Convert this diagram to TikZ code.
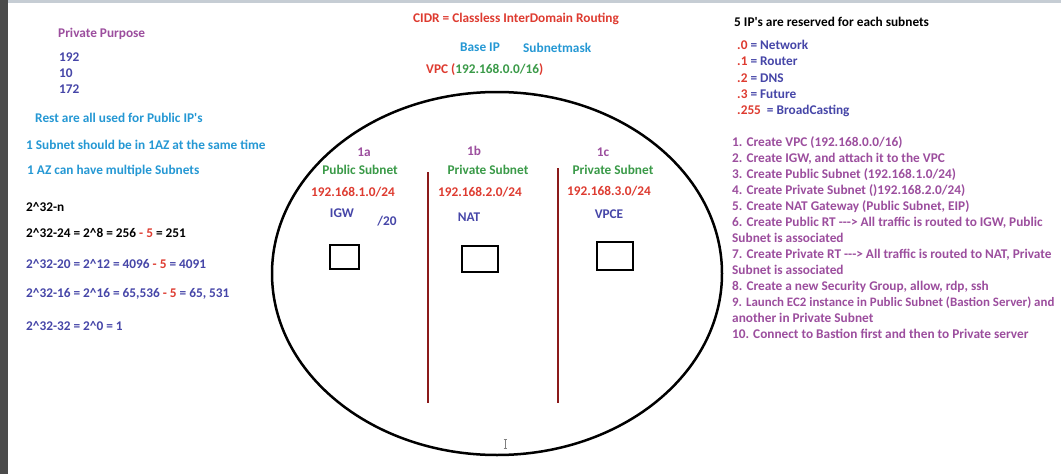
\documentclass[tikz,border=0pt]{standalone}
\usepackage{fontspec}
\setmainfont{Carlito}
\definecolor{cpurple}{HTML}{9C4E9E}
\definecolor{cdblue}{HTML}{4646A8}
\definecolor{clblue}{HTML}{2598D4}
\definecolor{cred}{HTML}{DE3B30}
\definecolor{cgreen}{HTML}{3A9A48}
\definecolor{cline}{HTML}{8B1A1A}
\definecolor{cband}{HTML}{4B4B4B}
\definecolor{ctop}{HTML}{C6CDD4}
\newcommand{\crt}{\textasciicircum}
\newcommand{\apos}{\textquotesingle}
\begin{document}
\begin{tikzpicture}[x=1pt,y=-1pt,
  every node/.style={inner sep=0pt, font=\bfseries\fontsize{13.3}{15}\selectfont},
  txt/.style={anchor=base west},
  ctr/.style={anchor=base},
  sep/.style={draw=cline, line width=2pt},
  bx/.style={draw=black, line width=2.3pt}]
\useasboundingbox (0,0) rectangle (1061,474);
\fill[white] (0,0) rectangle (1061,474);
\fill[cband] (0,0) rectangle (8,474);
\fill[ctop] (8,0) rectangle (1061,3);
% left column
\node[txt, text=cpurple] (pp) at (58,37) {Private Purpose};
\node[txt, text=cdblue] (n1) at (59,61) {192};
\node[txt, text=cdblue] (n2) at (59,77) {10};
\node[txt, text=cdblue] (n3) at (59,93) {172};
\node[txt, text=clblue] (rest) at (35,122) {Rest are all used for Public IP\apos s};
\node[txt, text=clblue] (az1) at (26,149) {1 Subnet should be in 1AZ at the same time};
\node[txt, text=clblue] (az2) at (27,174) {1 AZ can have multiple Subnets};
\node[txt, text=black] (f0) at (26,211) {2\crt 32-n};
\node[txt, text=black] (f1) at (26,237) {2\crt 32-24 = 2\crt 8 = 256 \textcolor{cred}{- 5} = 251};
\node[txt, text=cdblue] (f2) at (26,268) {2\crt 32-20 = 2\crt 12 = 4096 \textcolor{cred}{- 5} = 4091};
\node[txt, text=cdblue] (f3) at (26,297) {2\crt 32-16 = 2\crt 16 = 65,536 \textcolor{cred}{- 5} = 65, 531};
\node[txt, text=cdblue] (f4) at (26,330) {2\crt 32-32 = 2\crt 0 = 1};
% centre top
\node[txt, text=cred] (cidr) at (413,22) {CIDR = Classless InterDomain Routing};
\node[txt, text=clblue] (base) at (460,51) {Base IP};
\node[txt, text=clblue] (mask) at (523,52) {Subnetmask};
\node[txt, text=cred] (vpc) at (426,73) {VPC (\textcolor{cgreen}{192.168.0.0/16})};
% right column
\node[txt, text=black] (res) at (734,26) {5 IP\apos s are reserved for each subnets};
\node[txt, text=cdblue] (r0) at (737,49) {\textcolor{cred}{.0} = Network};
\node[txt, text=cdblue] (r1) at (737,65) {\textcolor{cred}{.1} = Router};
\node[txt, text=cdblue] (r2) at (737,82) {\textcolor{cred}{.2} = DNS};
\node[txt, text=cdblue] (r3) at (737,98) {\textcolor{cred}{.3} = Future};
\node[txt, text=cdblue] (r4) at (737,114) {\textcolor{cred}{.255}\ \ = BroadCasting};
\begin{scope}[every node/.append style={txt, text=cpurple}]
\node (s1) at (732,146) {1. Create VPC (192.168.0.0/16)};
\node (s2) at (732,162) {2. Create IGW, and attach it to the VPC};
\node (s3) at (732,178) {3. Create Public Subnet (192.168.1.0/24)};
\node (s4) at (732,194) {4. Create Private Subnet ()192.168.2.0/24)};
\node (s5) at (732,210) {5. Create NAT Gateway (Public Subnet, EIP)};
\node (s6) at (732,226) {6. Create Public RT -{}-{}-> All traffic is routed to IGW, Public};
\node (s6b) at (732,242) {Subnet is associated};
\node (s7) at (732,258) {7. Create Private RT -{}-{}-> All traffic is routed to NAT, Private};
\node (s7b) at (732,274) {Subnet is associated};
\node (s8) at (732,290) {8. Create a new Security Group, allow, rdp, ssh};
\node[font=\bfseries\fontsize{12.9}{15}\selectfont] (s9) at (732,306) {9. Launch EC2 instance in Public Subnet (Bastion Server) and};
\node (s9b) at (732,322) {another in Private Subnet};
\node (s10) at (732,338) {10. Connect to Bastion first and then to Private server};
\end{scope}
% VPC ellipse
\draw[line width=2.5pt] (497,273.5) ellipse [x radius=225pt, y radius=181.5pt];
\draw[sep] (428,172) -- (428,403);
\draw[sep] (558,168) -- (558,403);
% subnet labels
\node[ctr, text=cpurple] (a1) at (364,156) {1a};
\node[ctr, text=cpurple] (b1) at (474,155) {1b};
\node[ctr, text=cpurple] (c1) at (603,156) {1c};
\node[ctr, text=cgreen] (pa) at (360,174) {Public Subnet};
\node[ctr, text=cgreen] (pb) at (488,174) {Private Subnet};
\node[ctr, text=cgreen] (pc) at (613,174) {Private Subnet};
\node[ctr, text=cred] (ia) at (353,196) {192.168.1.0/24};
\node[ctr, text=cred] (ib) at (480,196) {192.168.2.0/24};
\node[ctr, text=cred] (ic) at (609,195) {192.168.3.0/24};
\node[ctr, text=cdblue] (igw) at (342,217) {IGW};
\node[ctr, text=cdblue] (p20) at (387,225) {/20};
\node[ctr, text=cdblue] (nat) at (469,221) {NAT};
\node[ctr, text=cdblue] (vpce) at (609,218) {VPCE};
% boxes
\draw[bx] (330,245) rectangle (359,269);
\draw[bx] (462,246) rectangle (498,272);
\draw[bx] (597,242) rectangle (633,270);
% text cursor
\draw[gray, line width=0.8pt] (505,439) -- (505,448) (503.5,439) -- (506.5,439) (503.5,448) -- (506.5,448);
\end{tikzpicture}
\end{document}
